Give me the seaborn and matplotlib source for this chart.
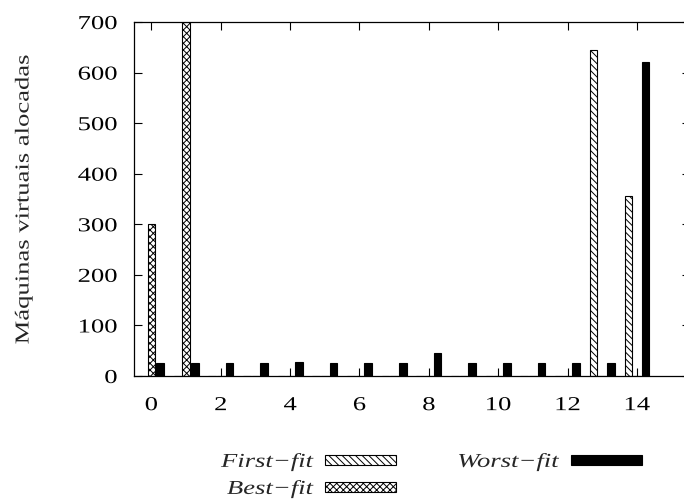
import matplotlib
matplotlib.use("Agg")
import matplotlib.pyplot as plt
import matplotlib.patches as mpatches
from matplotlib import patheffects
from matplotlib.transforms import Affine2D
import seaborn as sns
import pandas as pd

# ---- data ----
categories = [0, 1, 2, 3, 4, 5, 6, 7, 8, 9, 10, 11, 12, 13, 14]
first_fit = [0, 0, 0, 0, 0, 0, 0, 0, 0, 0, 0, 0, 0, 645, 355]
best_fit = [300, 700, 0, 0, 0, 0, 0, 0, 0, 0, 0, 0, 0, 0, 0]
worst_fit = [26, 26, 26, 26, 27, 26, 26, 26, 46, 26, 26, 26, 26, 26, 620]
series_names = ["First\u2212fit", "Best\u2212fit", "Worst\u2212fit"]
xtick_values = [0, 2, 4, 6, 8, 10, 12, 14]
xtick_labels = ["0", "2", "4", "6", "8", "10", "12", "14"]
ytick_values = [0, 100, 200, 300, 400, 500, 600, 700]
ylabel = "Máquinas virtuais alocadas"

df = pd.DataFrame({
    "cat": categories * 3,
    "val": first_fit + best_fit + worst_fit,
    "series": [series_names[0]] * len(categories)
    + [series_names[1]] * len(categories)
    + [series_names[2]] * len(categories),
})


class Stretch(patheffects.AbstractPathEffect):
    """Widen glyphs along the reading direction (text stays a Text artist)."""

    def __init__(self, sx, pivot=0.0):
        super().__init__()
        self.sx = sx
        self.pivot = pivot

    def draw_path(self, renderer, gc, tpath, affine, rgbFace=None):
        ext = tpath.get_extents()
        px = ext.x0 + self.pivot * ext.width
        st = Affine2D().translate(-px, 0).scale(self.sx, 1).translate(px, 0)
        renderer.draw_path(gc, tpath, st + affine, rgbFace)


sns.set_style("ticks")
plt.rcParams["font.family"] = ["Liberation Serif", "DejaVu Serif"]
plt.rcParams["hatch.linewidth"] = 0.7
plt.rcParams["hatch.color"] = "black"

W, H = 684, 504
FS = 14.2
SX = 1.35
UNIT = 34.69  # px per category
AX_W = W - 134  # plot area is cut off at the right edge of the picture
fig = plt.figure(figsize=(W / 100, H / 100), dpi=100, facecolor="white")
ax = fig.add_axes([134 / W, 128 / H, AX_W / W, 354 / H])

sns.barplot(data=df, x="cat", y="val", hue="series", hue_order=series_names,
            palette=["white", "white", "black"], width=0.75, gap=0.12,
            edgecolor="black", linewidth=0.8, saturation=1, legend=False,
            ax=ax)

hatches = ["\\\\\\\\\\", "xxxxx", ""]
for cont, h in zip(ax.containers, hatches):
    for p in cont.patches:
        p.set_hatch(h)

ax.set_xlim(-0.5, -0.5 + AX_W / UNIT)
ax.set_ylim(0, 700)
ax.set_xticks(xtick_values)
ax.set_xticklabels(xtick_labels)
ax.set_yticks(ytick_values)
ax.set_yticklabels([str(v) for v in ytick_values])
ax.set_xlabel("")
ax.set_ylabel("")

for s in ax.spines.values():
    s.set_linewidth(0.9)
    s.set_color("black")
ax.spines["right"].set_visible(False)

ax.tick_params(direction="in", length=5.5, width=0.8, top=True, right=False,
               labelsize=FS, colors="black")
ax.tick_params(axis="x", pad=14.5)
ax.tick_params(axis="y", pad=12)
# only the tips of the mirrored right-hand ticks show at the cut edge
ax.tick_params(axis="y", which="major", right=True, labelright=False)
for t in ax.yaxis.get_major_ticks():
    t.tick2line.set_markersize(1.6)

for t in ax.xaxis.get_major_ticks():
    t.label1.set_path_effects([Stretch(SX, 0.5)])
for t in ax.yaxis.get_major_ticks():
    t.label1.set_path_effects([Stretch(SX, 1.0)])

yl = fig.text(24 / W, 1 - 199 / H, ylabel, rotation=90, ha="center",
              va="center", fontsize=FS)
yl.set_path_effects([Stretch(SX, 0.5)])

handles = [
    mpatches.Patch(facecolor="white", edgecolor="black", hatch=hatches[0], linewidth=0.8),
    mpatches.Patch(facecolor="white", edgecolor="black", hatch=hatches[1], linewidth=0.8),
    mpatches.Patch(facecolor="black", edgecolor="black", linewidth=0.8),
]
leg = fig.legend(handles=handles, labels=series_names, ncol=2, frameon=False,
                 markerfirst=False, loc="upper left",
                 bbox_to_anchor=(245 / W, 1 - 452 / H),
                 prop={"family": "Liberation Serif", "style": "italic", "size": FS},
                 handlelength=3.6, handleheight=0.46, handletextpad=0.62,
                 columnspacing=4.42, labelspacing=0.36, borderpad=0,
                 borderaxespad=0)
for txt in leg.get_texts():
    txt.set_path_effects([Stretch(SX, 1.0)])

fig.savefig("out.png", dpi=100, facecolor="white")
